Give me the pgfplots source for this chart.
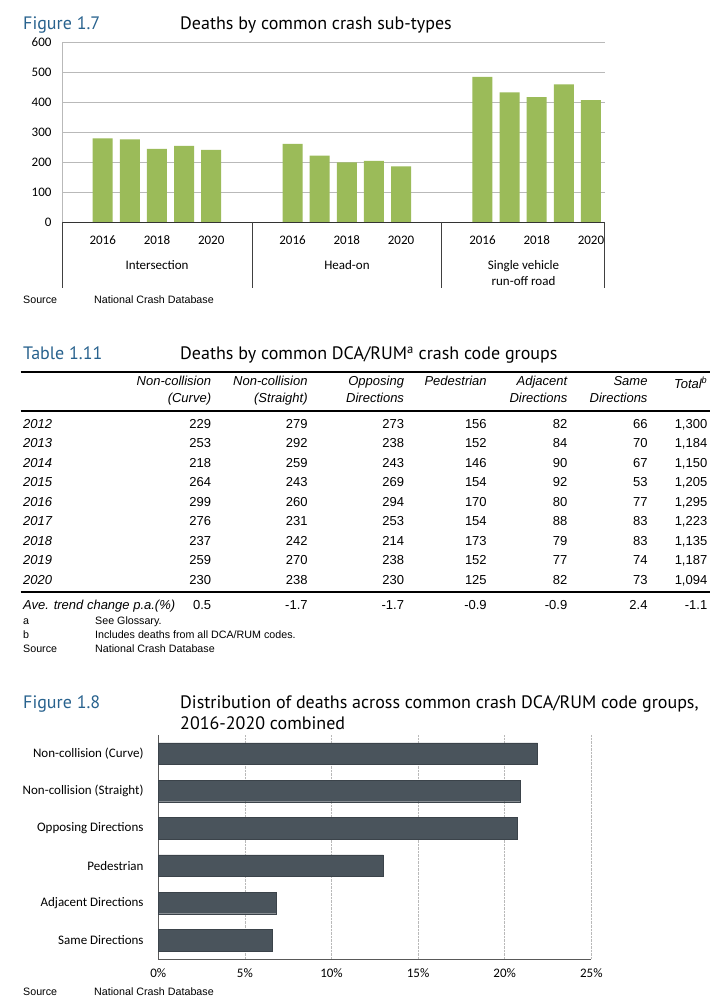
\documentclass[border=0pt]{standalone}
\usepackage{pgfplots}
\pgfplotsset{compat=1.18}
\usepackage{fontspec}
\setmainfont{Carlito}
\newfontfamily\ttl{PT Sans}
\newfontfamily\arial{Liberation Sans}
\definecolor{figblue}{RGB}{40,98,142}
\definecolor{bargreen}{RGB}{155,187,89}
\definecolor{bardark}{RGB}{74,84,92}
\definecolor{gridgray}{RGB}{185,185,185}
\newcommand{\fs}[1]{\fontsize{#1bp}{#1bp}\selectfont}
\newcommand{\trow}[9]{%
 \node[anchor=base west,inner sep=0,font=\arial\itshape\fs{13}] at (23,#1) {#2};
 \node[anchor=base east,inner sep=0,font=\arial\fs{13}] at (211.3,#1) {#3};
 \node[anchor=base east,inner sep=0,font=\arial\fs{13}] at (307.8,#1) {#4};
 \node[anchor=base east,inner sep=0,font=\arial\fs{13}] at (404.2,#1) {#5};
 \node[anchor=base east,inner sep=0,font=\arial\fs{13}] at (486.9,#1) {#6};
 \node[anchor=base east,inner sep=0,font=\arial\fs{13}] at (567.5,#1) {#7};
 \node[anchor=base east,inner sep=0,font=\arial\fs{13}] at (647.7,#1) {#8};
 \node[anchor=base east,inner sep=0,font=\arial\fs{13}] at (707.5,#1) {#9};
}
\begin{document}
\begin{tikzpicture}
\useasboundingbox (0,0) rectangle (720bp,1001bp);
\fill[white] (0,0) rectangle (720bp,1001bp);

% ---------------- Figure 1.7 (axis box: x 62..604.5, y 42..222 from top)
\begin{axis}[at={(62bp,779bp)},anchor=south west,scale only axis,
 width=542.5bp,height=180bp,
 xmin=0,xmax=20,ymin=0,ymax=600,
 ybar, bar width=0.74,
 ytick={0,100,...,600},
 xtick={1.5,3.5,5.5,8.5,10.5,12.5,15.5,17.5,19.5},
 xticklabels={2016,2018,2020,2016,2018,2020,2016,2018,2020},
 tick style={draw=none},
 ymajorgrids, grid style={gridgray, line width=0.9bp},
 axis x line*=bottom, axis y line*=left,
 x axis line style={-,black!80,line width=0.9bp},
 y axis line style={-,gridgray,line width=0.9bp},
 ticklabel style={font=\fs{13}},
 /pgf/number format/assume math mode=true,
 yticklabel style={xshift=-7bp},
 xticklabel style={yshift=-6bp},
 clip=false,
]
\addplot[fill=bargreen, draw=none] coordinates {
 (1.5,279) (2.5,275) (3.5,244) (4.5,254) (5.5,240)
 (8.5,260) (9.5,221) (10.5,199) (11.5,204) (12.5,185)
 (15.5,484) (16.5,432) (17.5,416) (18.5,459) (19.5,406)};
\end{axis}

% ---------------- Figure 1.8 (axis box: x 158.3..591.3, y 735..959 from top)
\begin{axis}[at={(158.3bp,42bp)},anchor=south west,scale only axis,
 width=433bp,height=224bp,
 xbar, bar width=0.575,
 xmin=0,xmax=25,ymin=-0.5,ymax=5.5,y dir=reverse,
 ytick={0,...,5},
 yticklabels={Non-collision (Curve),Non-collision (Straight),Opposing Directions,Pedestrian,Adjacent Directions,Same Directions},
 xtick={0,5,...,25},
 xticklabel={\pgfmathprintnumber{\tick}\%},
 /pgf/number format/assume math mode=true,
 xmajorgrids, grid style={densely dotted,gridgray,line width=0.8bp},
 axis x line*=bottom, axis y line*=left,
 axis line style={-,black!65,line width=0.9bp},
 tick style={draw=none},
 ticklabel style={font=\fs{13}},
 yticklabel style={xshift=-7bp},
 xticklabel style={yshift=-6bp},
 clip=false,
]
\addplot[fill=bardark, draw=bardark!80!black] coordinates {
 (21.9,0) (20.9,1) (20.7,2) (13.0,3) (6.8,4) (6.6,5)};
\end{axis}

\begin{scope}[x=1bp,y=-1bp,yshift=1001bp]
% Figure 1.7 texts
\node[anchor=base west,inner sep=0,text=figblue,font=\ttl\fs{18}] at (23,29.3) {Figure 1.7};
\node[anchor=base west,inner sep=0,text=black,font=\ttl\fs{18}] at (180,29.3) {Deaths by common crash sub-types};
\draw[black!75,line width=0.8bp] (62,222)--(62,288) (251.9,222)--(251.9,288)
  (441.75,222)--(441.75,288) (604.5,222)--(604.5,288);
\node[anchor=base,inner sep=0,font=\fs{13}] at (157,270) {Intersection};
\node[anchor=base,inner sep=0,font=\fs{13}] at (347,270) {Head-on};
\node[anchor=base,inner sep=0,font=\fs{13}] at (523.5,270) {Single vehicle};
\node[anchor=base,inner sep=0,font=\fs{13}] at (523.5,286) {run-off road};
\node[anchor=base west,inner sep=0,font=\arial\fs{10.7}] at (23,304) {Source};
\node[anchor=base west,inner sep=0,font=\arial\fs{10.7}] at (94,304) {National Crash Database};

% Table 1.11
\node[anchor=base west,inner sep=0,text=figblue,font=\ttl\fs{18}] at (23,359.5) {Table 1.11};
\node[anchor=base west,inner sep=0,text=black,font=\ttl\fs{18}] at (180,359.5) {Deaths by common DCA/RUM\textsuperscript{a} crash code groups};
\draw[line width=2bp] (20.7,372)--(709.7,372);
\draw[line width=2bp] (20.7,410.7)--(709.7,410.7);
\draw[line width=2bp] (20.7,592.3)--(709.7,592.3);
\begin{scope}[every node/.style={anchor=base east,inner sep=0,font=\arial\itshape\fs{13}}]
\node at (211.3,385.7) {Non-collision};
\node at (211.3,402.5) {(Curve)};
\node at (307.8,385.7) {Non-collision};
\node at (307.8,402.5) {(Straight)};
\node at (404.2,385.7) {Opposing};
\node at (404.2,402.5) {Directions};
\node at (486.9,385.7) {Pedestrian};
\node at (567.5,385.7) {Adjacent};
\node at (567.5,402.5) {Directions};
\node at (647.7,385.7) {Same};
\node at (647.7,402.5) {Directions};
\node at (707.5,388.3) {Total\textsuperscript{b}};
\end{scope}
\trow{428.3}{2012}{229}{279}{273}{156}{82}{66}{1,300}
\trow{447.8}{2013}{253}{292}{238}{152}{84}{70}{1,184}
\trow{467.3}{2014}{218}{259}{243}{146}{90}{67}{1,150}
\trow{486.8}{2015}{264}{243}{269}{154}{92}{53}{1,205}
\trow{506.3}{2016}{299}{260}{294}{170}{80}{77}{1,295}
\trow{525.8}{2017}{276}{231}{253}{154}{88}{83}{1,223}
\trow{545.3}{2018}{237}{242}{214}{173}{79}{83}{1,135}
\trow{564.8}{2019}{259}{270}{238}{152}{77}{74}{1,187}
\trow{584.3}{2020}{230}{238}{230}{125}{82}{73}{1,094}
\trow{609.3}{Ave. trend change p.a.(\%)}{0.5}{-1.7}{-1.7}{-0.9}{-0.9}{2.4}{-1.1}
\begin{scope}[every node/.style={anchor=base west,inner sep=0,font=\arial\fs{10.7}}]
\node at (23,625) {a};
\node at (95,625) {See Glossary.};
\node at (23,638.5) {b};
\node at (95,638.5) {Includes deaths from all DCA/RUM codes.};
\node at (23,652.5) {Source};
\node at (95,652.5) {National Crash Database};
\end{scope}

% Figure 1.8 texts
\node[anchor=base west,inner sep=0,text=figblue,font=\ttl\fs{18}] at (23,708.3) {Figure 1.8};
\node[anchor=base west,inner sep=0,text=black,font=\ttl\fs{18}] at (180,708.3) {Distribution of deaths across common crash DCA/RUM code groups,};
\node[anchor=base west,inner sep=0,text=black,font=\ttl\fs{18}] at (180,729.7) {2016-2020 combined};
\node[anchor=base west,inner sep=0,font=\arial\fs{10.7}] at (23,996) {Source};
\node[anchor=base west,inner sep=0,font=\arial\fs{10.7}] at (94,996) {National Crash Database};
\end{scope}
\end{tikzpicture}
\end{document}
